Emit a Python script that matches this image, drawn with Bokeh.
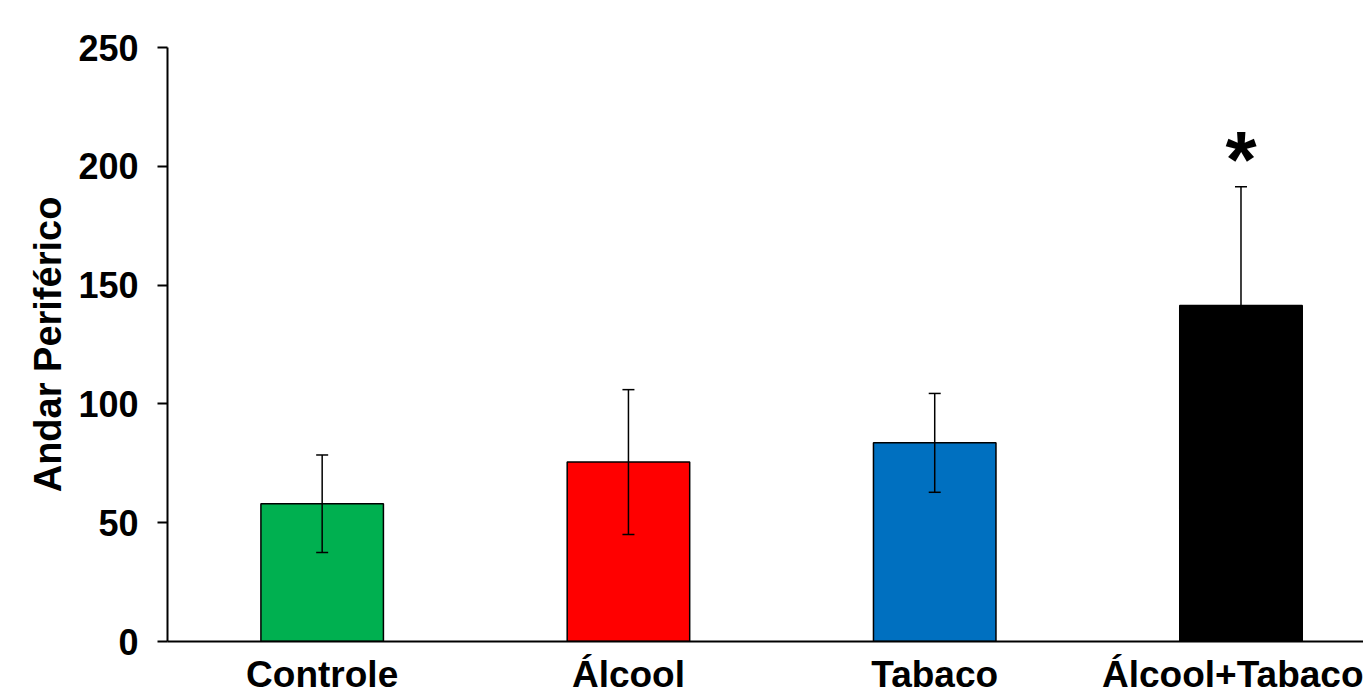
from bokeh.plotting import figure
from bokeh.models import ColumnDataSource, FixedTicker, Whisker, TeeHead, Range1d
from bokeh.core.properties import value
from bokeh.embed import file_html
from bokeh.resources import INLINE

categories = ["Controle", "Álcool", "Tabaco", "Álcool+Tabaco"]
means = [58, 75.5, 83.6, 141.4]
sds = [20.5, 30.5, 20.8, 50]
colors = ["#00B050", "#FF0000", "#0070C0", "#000000"]
y_ticks = [0, 50, 100, 150, 200, 250]
star_label = "*"

FONT = "Liberation Sans"

xs = list(range(len(categories)))
src = ColumnDataSource(dict(
    x=xs,
    mean=means,
    upper=[m + s for m, s in zip(means, sds)],
    lower=[m - s for m, s in zip(means, sds)],
    color=colors,
))

p = figure(width=1363, height=697, output_backend="svg", toolbar_location=None,
           x_range=Range1d(-0.505, 3.4), y_range=Range1d(0, 250),
           min_border_left=167, min_border_right=0, min_border_top=47,
           min_border_bottom=56)
p.grid.visible = False
p.outline_line_color = None
p.background_fill_color = "white"
p.border_fill_color = "white"

p.vbar(x="x", top="mean", width=0.4, fill_color="color", line_color="black",
       line_width=1.5, source=src)

w = Whisker(base="x", upper="upper", lower="lower", source=src,
            line_color="black", line_width=1.5, level="overlay",
            upper_head=TeeHead(size=12, line_color="black", line_width=1.5),
            lower_head=TeeHead(size=12, line_color="black", line_width=1.5))
p.add_layout(w)

# significance marker above the last bar
p.text(x=[xs[-1]], y=[203], text=[star_label], text_font=value(FONT),
       text_font_size="80px", text_font_style="bold", text_align="center",
       text_baseline="middle", text_color="black")

xa = p.xaxis[0]
xa.ticker = FixedTicker(ticks=xs)
xa.major_label_overrides = {i: c for i, c in zip(xs, categories)}
xa.major_tick_out = 0
xa.major_tick_in = 0
xa.minor_tick_out = 0
xa.minor_tick_in = 0
xa.axis_line_width = 2
xa.axis_line_color = "black"
xa.major_label_text_font = FONT
xa.major_label_text_font_size = "37px"
xa.major_label_text_font_style = "bold"
xa.major_label_text_color = "black"
xa.major_label_standoff = 12

ya = p.yaxis[0]
ya.ticker = FixedTicker(ticks=y_ticks)
ya.major_tick_out = 10
ya.major_tick_in = 0
ya.minor_tick_out = 0
ya.minor_tick_in = 0
ya.major_tick_line_width = 2
ya.major_tick_line_color = "black"
ya.axis_line_width = 2
ya.axis_line_color = "black"
ya.major_label_text_font = FONT
ya.major_label_text_font_size = "36px"
ya.major_label_text_font_style = "bold"
ya.major_label_text_color = "black"
ya.major_label_standoff = 19
ya.axis_label = "Andar Periférico"
ya.axis_label_text_font = FONT
ya.axis_label_text_font_size = "38px"
ya.axis_label_text_font_style = "bold"
ya.axis_label_text_color = "black"
ya.axis_label_standoff = 6

open("out.html", "w").write(file_html(p, INLINE))
